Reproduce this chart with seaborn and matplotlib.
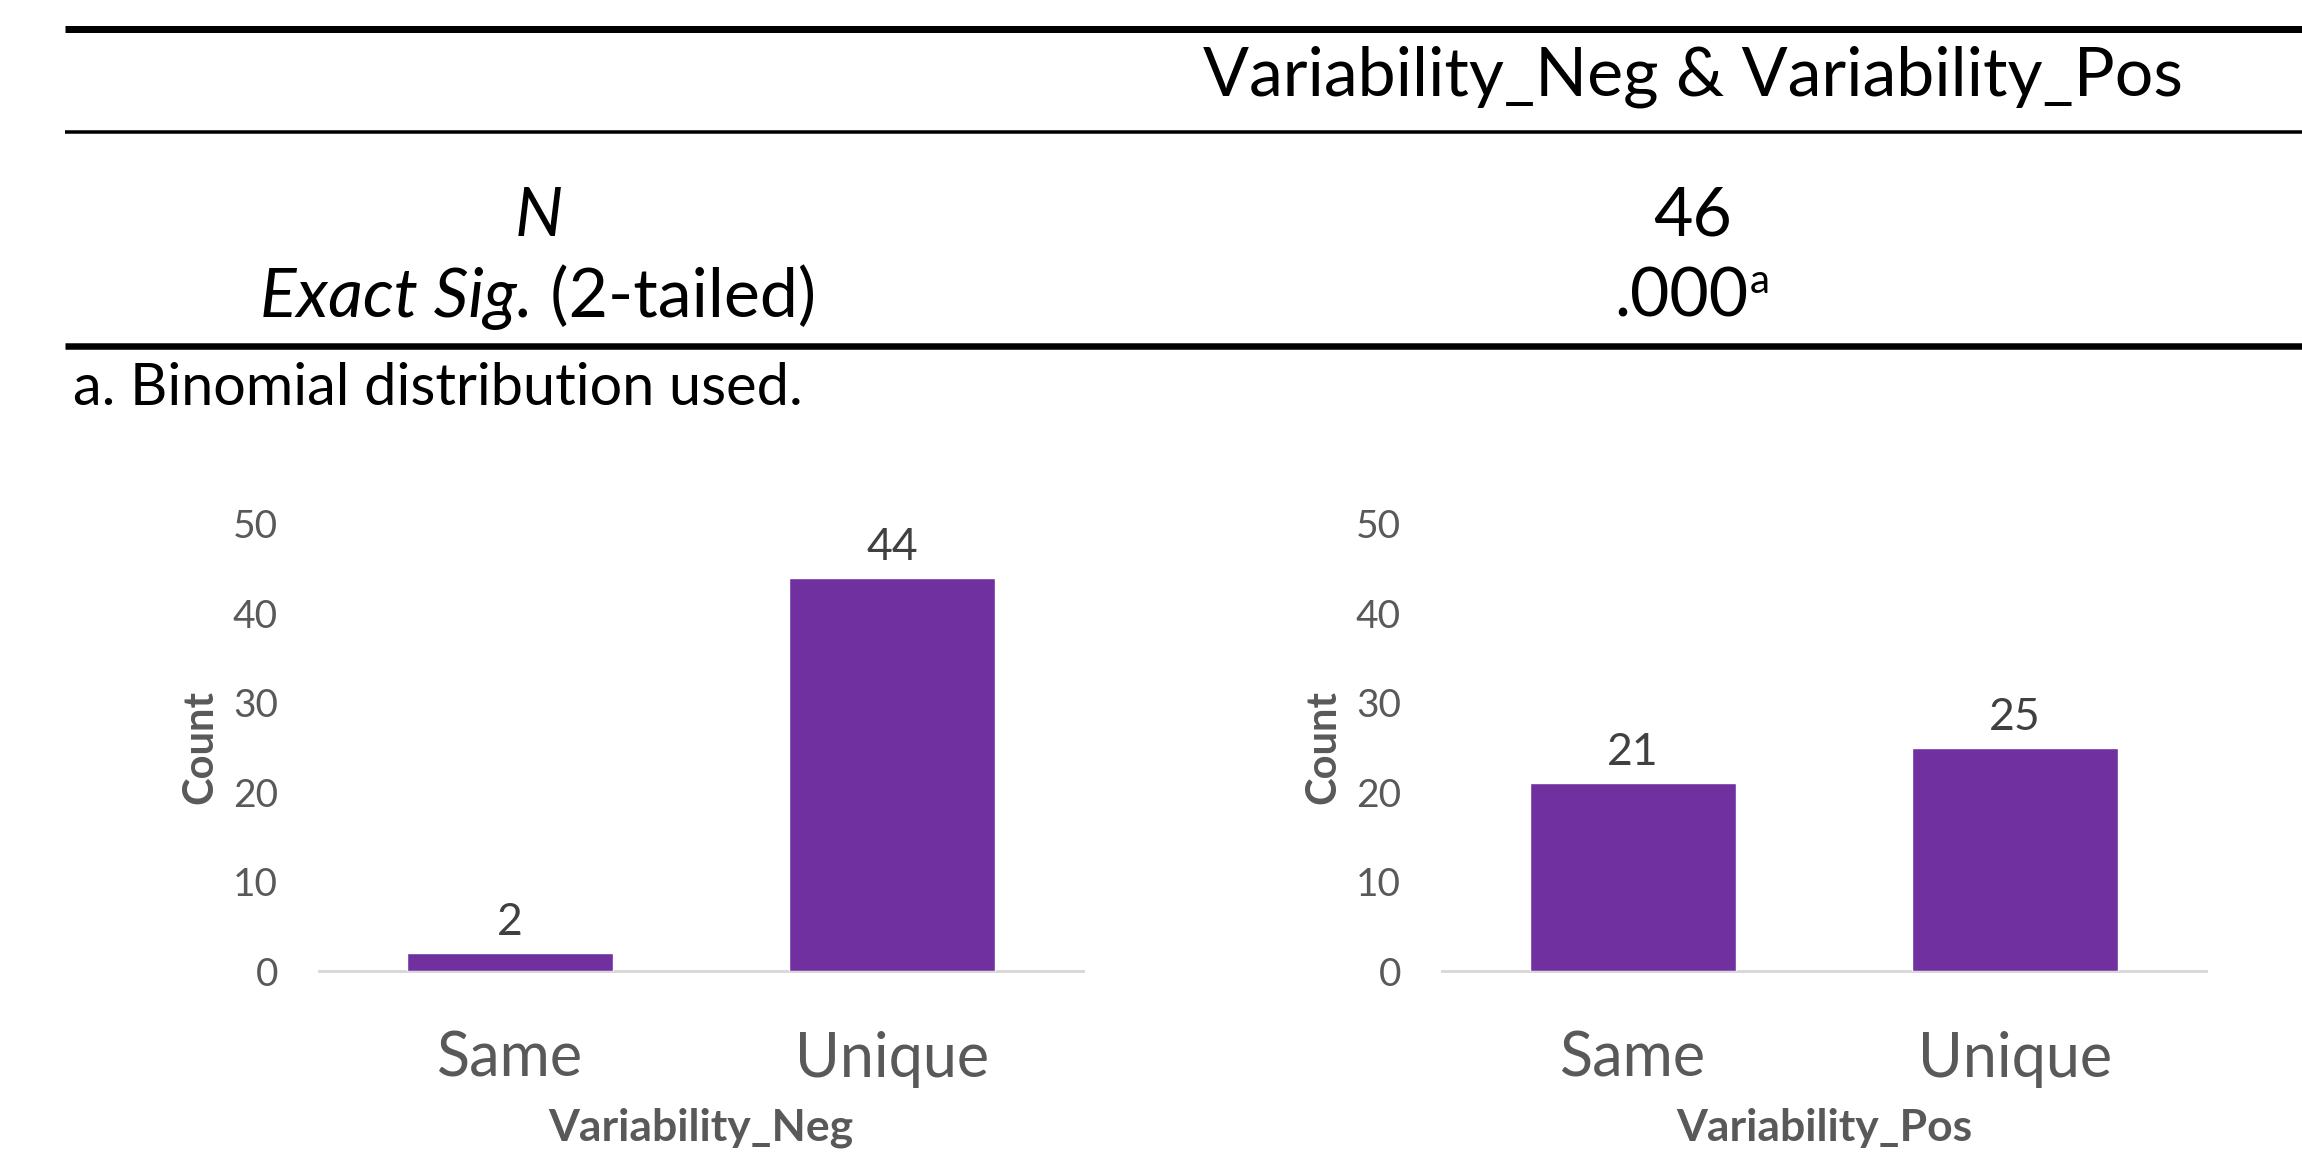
import matplotlib
matplotlib.use("Agg")
import matplotlib.pyplot as plt
import seaborn as sns
import pandas as pd
from matplotlib.lines import Line2D

# ---------------- data ----------------
categories = ["Same", "Unique"]
neg_counts = [2, 44]
pos_counts = [21, 25]
var_names = ["Variability_Neg", "Variability_Pos"]
y_ticks = [0, 10, 20, 30, 40, 50]

table_header = "Variability_Neg & Variability_Pos"
row_n_label = "N"
row_sig_label = "Exact Sig."
row_sig_suffix = " (2-tailed)"
n_value = "46"
sig_value = ".000"
sig_mark = "a"
footnote = "a. Binomial distribution used."

# ---------------- setup ----------------
W, H = 2302, 1164
DPI = 100
sns.set_theme(style="white")
plt.rcParams["font.family"] = ["Lato", "DejaVu Sans"]

fig = plt.figure(figsize=(W / DPI, H / DPI), dpi=DPI)
fig.patch.set_facecolor("white")


def fx(px):
    return px / W


def fy(py):
    return 1 - py / H


def px2pt(px):
    return px * 72 / DPI


# ---------------- table ----------------
for yc, th in [(28.5, 7), (131.5, 3.5), (345.5, 6.5)]:
    fig.add_artist(Line2D([fx(65), 1.0], [fy(yc), fy(yc)], color="black",
                          lw=px2pt(th), solid_capstyle="butt"))

TFS = 49
fig.text(fx(1693), fy(95), table_header, ha="center", va="baseline",
         fontsize=TFS, color="black")
fig.text(fx(539), fy(236), row_n_label, ha="center", va="baseline",
         fontsize=TFS, style="italic", color="black")
fig.text(fx(1693), fy(236), n_value, ha="center", va="baseline",
         fontsize=TFS, color="black")

renderer = fig.canvas.get_renderer()

# Exact Sig. (2-tailed) centered at 538
t1 = fig.text(0, fy(317), row_sig_label, ha="left", va="baseline",
              fontsize=TFS, style="italic", color="black")
t2 = fig.text(0, fy(317), row_sig_suffix, ha="left", va="baseline",
              fontsize=TFS, color="black")
w1 = t1.get_window_extent(renderer).width
w2 = t2.get_window_extent(renderer).width
x0 = 538 - (w1 + w2) / 2
t1.set_x(fx(x0))
t2.set_x(fx(x0 + w1))

# .000 with superscript a, centered at 1692
t3 = fig.text(0, fy(317), sig_value, ha="left", va="baseline",
              fontsize=TFS, color="black")
t4 = fig.text(0, fy(293), sig_mark, ha="left", va="baseline",
              fontsize=29, color="black")
w3 = t3.get_window_extent(renderer).width
w4 = t4.get_window_extent(renderer).width
x0 = 1692 - (w3 + w4 + 1) / 2
t3.set_x(fx(x0))
t4.set_x(fx(x0 + w3 + 1))

fig.text(fx(73), fy(405), footnote, ha="left", va="baseline",
         fontsize=41.5, color="black")

# ---------------- charts ----------------
BAR = "#7030A0"
GRAY = "#595959"
AX_TOP, AX_BOT = 524, 971

axes_px = [(319, 1083), (1442, 2206)]
for (xl, xr), counts, name in zip(axes_px, [neg_counts, pos_counts], var_names):
    ax = fig.add_axes([fx(xl), fy(AX_BOT), (xr - xl) / W, (AX_BOT - AX_TOP) / H])
    df = pd.DataFrame({"category": categories, "count": counts})
    sns.barplot(data=df, x="category", y="count", ax=ax, color=BAR,
                saturation=1, width=0.537, errorbar=None)
    ax.set_xlim(-0.5, len(categories) - 0.5)
    ax.set_ylim(0, 50)
    ax.set_yticks(y_ticks)
    ax.set_yticklabels([str(v) for v in y_ticks])
    for s in ["top", "right", "left"]:
        ax.spines[s].set_visible(False)
    ax.spines["bottom"].set_color("#D9D9D9")
    ax.spines["bottom"].set_linewidth(px2pt(3))
    ax.spines["bottom"].set_zorder(0)
    ax.grid(False)
    ax.tick_params(axis="y", length=0, pad=px2pt(41), labelsize=28, labelcolor=GRAY)
    ax.tick_params(axis="x", length=0, pad=px2pt(88), labelsize=44, labelcolor=GRAY)
    for lab in ax.get_xticklabels():
        lab.set_va("center")
    ax.bar_label(ax.containers[0], padding=px2pt(10), fontsize=32, color="#404040")

    ax.set_xlabel(name, fontsize=32, fontweight="bold", color=GRAY)
    ax.xaxis.set_label_coords(0.5, -(1128 - AX_BOT) / (AX_BOT - AX_TOP))
    ax.xaxis.label.set_va("center")
    ax.set_ylabel("Count", fontsize=30, fontweight="bold", color=GRAY)
    ax.yaxis.set_label_coords(-119 / (xr - xl), 0.5)
    ax.yaxis.label.set_va("center")
    ax.set_facecolor("white")

fig.savefig("out.png", dpi=DPI, facecolor="white")
